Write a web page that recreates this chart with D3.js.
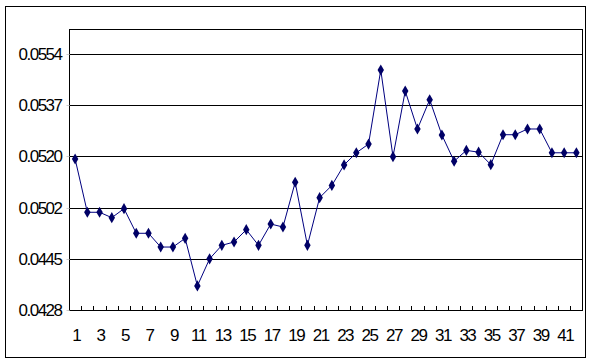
<!DOCTYPE html>
<html>
<head>
<meta charset="utf-8">
<script src="https://cdn.jsdelivr.net/npm/d3@7"></script>
<style>
  body { margin: 0; background: #fff; }
  text { font-family: "Liberation Sans", Arial, sans-serif; }
</style>
</head>
<body>
<svg width="596" height="363"></svg>
<script>
// categories 1..42
var categories = d3.range(1, 43);
// series values
var values = [
  0.05191, 0.04968, 0.04968, 0.04908, 0.05008, 0.04734, 0.04734, 0.04581, 0.04581, 0.04678,
  0.04360, 0.04450, 0.04600, 0.04637, 0.04774, 0.04600, 0.04837, 0.04804, 0.05109, 0.04600,
  0.05055, 0.05098, 0.05170, 0.05212, 0.05241, 0.05487, 0.05199, 0.05417, 0.05291, 0.05388,
  0.05271, 0.05183, 0.05220, 0.05214, 0.05171, 0.05272, 0.05272, 0.05291, 0.05291, 0.05212,
  0.05212, 0.05212
];
// y tick labels as printed (spaced evenly on the chart)
var yTicks = [0.0428, 0.0445, 0.0502, 0.0520, 0.0537, 0.0554];
var yTop = 0.05625;

var svg = d3.select("svg");
var plotL = 69, plotR = 582.5, plotT = 29, plotB = 310;

// outer frame
svg.append("rect")
    .attr("x", 5.5).attr("y", 6.5)
    .attr("width", 580).attr("height", 351)
    .attr("fill", "none").attr("stroke", "#000");

var xScale = d3.scaleBand().domain(categories).range([plotL, plotR]);
var step = (plotB - 54) / (yTicks.length - 1);
var yScale = d3.scaleLinear()
    .domain(yTicks.concat([yTop]))
    .range(yTicks.map(function(d, i) { return plotB - i * step; }).concat([plotT]));

var g = svg.append("g");

// gridlines
g.selectAll(".grid")
    .data(yTicks.slice(1))
    .enter().append("line")
    .attr("x1", plotL).attr("x2", plotR)
    .attr("y1", function(d) { return Math.round(yScale(d)) + 0.5; })
    .attr("y2", function(d) { return Math.round(yScale(d)) + 0.5; })
    .attr("stroke", "#000");

// plot frame
g.append("rect")
    .attr("x", plotL + 0.5).attr("y", plotT + 0.5)
    .attr("width", plotR - plotL - 0.5).attr("height", plotB - plotT)
    .attr("fill", "none").attr("stroke", "#000");

// y axis
var yAxis = g.append("g")
    .attr("transform", "translate(" + (plotL + 0.5) + ",0.5)")
    .call(d3.axisLeft(yScale).tickValues(yTicks).tickSize(3).tickPadding(6)
        .tickFormat(d3.format(".4f")));
yAxis.select(".domain").remove();
yAxis.selectAll(".tick").attr("transform", function(d) {
    return "translate(0," + Math.round(yScale(d)) + ")";
});
yAxis.selectAll("line").attr("stroke", "#ccc");
yAxis.selectAll("text")
    .attr("font-size", "17px")
    .attr("letter-spacing", "-1.5px")
    .attr("fill", "#000")
    .attr("dy", "0.35em")
    .attr("x", -8);

// x axis: ticks between categories, pointing up
var boundaries = d3.range(0, categories.length + 1).map(function(i) {
    return plotL + i * xScale.bandwidth();
});
g.selectAll(".xtick")
    .data(boundaries.slice(1, -1))
    .enter().append("line")
    .attr("x1", function(d) { return Math.round(d) + 0.5; })
    .attr("x2", function(d) { return Math.round(d) + 0.5; })
    .attr("y1", plotB - 4).attr("y2", plotB)
    .attr("stroke", "#000");

g.selectAll(".xlabel")
    .data(categories.filter(function(d) { return d % 2 === 1; }))
    .enter().append("text")
    .attr("x", function(d) { return xScale(d) + xScale.bandwidth() / 2 + 1; })
    .attr("y", 341)
    .attr("text-anchor", "middle")
    .attr("font-size", "17px")
    .attr("letter-spacing", "-1.5px")
    .attr("fill", "#000")
    .text(function(d) { return d; });

// series line
var line = d3.line()
    .x(function(d, i) { return xScale(categories[i]) + xScale.bandwidth() / 2; })
    .y(function(d) { return yScale(d); });

g.append("path")
    .datum(values)
    .attr("d", line)
    .attr("fill", "none")
    .attr("stroke", "#000080")
    .attr("stroke-width", 1);

g.selectAll(".pt")
    .data(values)
    .enter().append("path")
    .attr("class", "pt")
    .attr("transform", function(d, i) {
        return "translate(" + (xScale(categories[i]) + xScale.bandwidth() / 2) + "," + yScale(d) + ")";
    })
    .attr("d", d3.symbol().type(d3.symbolDiamond).size(36))
    .attr("fill", "#000066");
</script>
</body>
</html>
